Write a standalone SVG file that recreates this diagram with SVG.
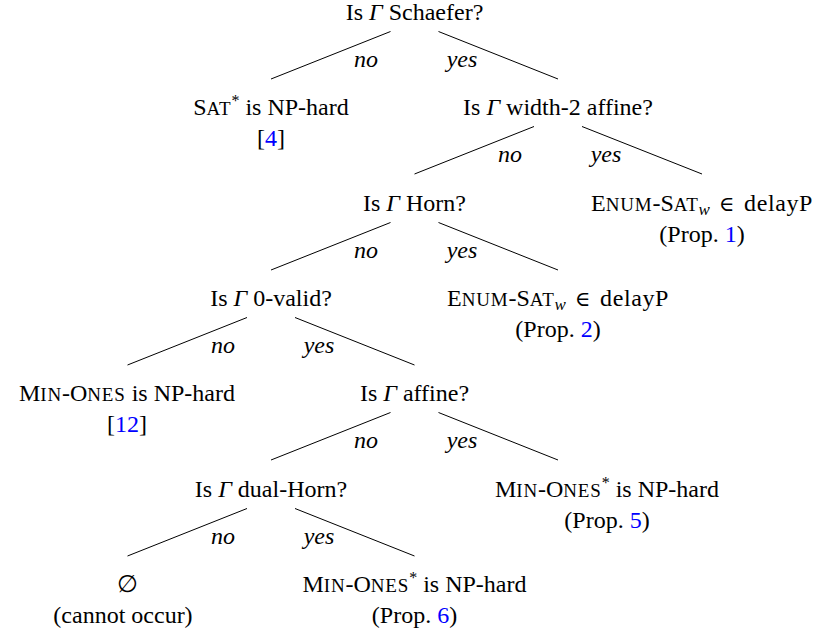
<svg xmlns="http://www.w3.org/2000/svg" width="820" height="636" viewBox="0 0 820 636">
<style>
text{font-size:24px;fill:#000;text-anchor:middle}
.sc{font-size:19px;letter-spacing:0.8px}
.sup{font-size:16px}
.sub{font-size:17px;font-style:italic}
.it{font-style:italic}
.cite{fill:#0000ff}
.sym{font-size:21px}
.dp{letter-spacing:0.6px}
.conn line{stroke:#000;stroke-width:1;fill:none}
.conn text{font-style:italic}
</style>
<rect width="820" height="636" fill="#fff"/>
<g font-family="Liberation Serif">
<g id="connectors" class="conn">
<line x1="390.5" y1="31.5" x2="271" y2="79"/>
<line x1="438.5" y1="31.5" x2="558" y2="79"/>
<text x="366" y="67">no</text><text x="462" y="67">yes</text>
<line x1="534" y1="126.5" x2="414.5" y2="174"/>
<line x1="582" y1="126.5" x2="702" y2="174"/>
<text x="510" y="162">no</text><text x="606" y="162">yes</text>
<line x1="390.5" y1="222.5" x2="271" y2="270"/>
<line x1="438.5" y1="222.5" x2="558" y2="270"/>
<text x="366" y="258">no</text><text x="462" y="258">yes</text>
<line x1="247" y1="317.5" x2="127.5" y2="365"/>
<line x1="295" y1="317.5" x2="414.5" y2="365"/>
<text x="223" y="353">no</text><text x="319" y="353">yes</text>
<line x1="390.5" y1="412.5" x2="271" y2="460"/>
<line x1="438.5" y1="412.5" x2="558" y2="460"/>
<text x="366" y="448">no</text><text x="462" y="448">yes</text>
<line x1="247" y1="508.5" x2="127.5" y2="556"/>
<line x1="295" y1="508.5" x2="414.5" y2="556"/>
<text x="223" y="544">no</text><text x="319" y="544">yes</text>
</g>
<g id="q-schaefer"><text x="414.5" y="20">Is <tspan class="it">Γ</tspan> Schaefer?</text></g>
<g id="leaf-sat"><text x="271" y="115">S<tspan class="sc">AT</tspan><tspan class="sup" dy="-9">*</tspan><tspan dy="9"> is NP-hard</tspan></text><text x="271" y="146">[<tspan class="cite">4</tspan>]</text></g>
<g id="q-width2"><text x="558" y="115">Is <tspan class="it">Γ</tspan> width-2 affine?</text></g>
<g id="leaf-enum1"><text x="702" y="211">E<tspan class="sc">NUM</tspan>-S<tspan class="sc">AT</tspan><tspan class="sub" dy="4">w</tspan><tspan dy="-4" dx="3"> </tspan><tspan class="sym" font-family="DejaVu Serif">∈</tspan><tspan class="dp" dx="3"> delayP</tspan></text><text x="702" y="242">(Prop. <tspan class="cite">1</tspan>)</text></g>
<g id="q-horn"><text x="414.5" y="211">Is <tspan class="it">Γ</tspan> Horn?</text></g>
<g id="leaf-enum2"><text x="558" y="306">E<tspan class="sc">NUM</tspan>-S<tspan class="sc">AT</tspan><tspan class="sub" dy="4">w</tspan><tspan dy="-4" dx="3"> </tspan><tspan class="sym" font-family="DejaVu Serif">∈</tspan><tspan class="dp" dx="3"> delayP</tspan></text><text x="558" y="337">(Prop. <tspan class="cite">2</tspan>)</text></g>
<g id="q-0valid"><text x="271" y="306">Is <tspan class="it">Γ</tspan> 0-valid?</text></g>
<g id="leaf-minones"><text x="127" y="401">M<tspan class="sc">IN</tspan>-O<tspan class="sc">NES</tspan> is NP-hard</text><text x="127" y="432">[<tspan class="cite">12</tspan>]</text></g>
<g id="q-affine"><text x="414.5" y="401">Is <tspan class="it">Γ</tspan> affine?</text></g>
<g id="q-dualhorn"><text x="271" y="497">Is <tspan class="it">Γ</tspan> dual-Horn?</text></g>
<g id="leaf-minones5"><text x="607" y="497">M<tspan class="sc">IN</tspan>-O<tspan class="sc">NES</tspan><tspan class="sup" dy="-9">*</tspan><tspan dy="9"> is NP-hard</tspan></text><text x="607" y="528">(Prop. <tspan class="cite">5</tspan>)</text></g>
<g id="leaf-empty"><text x="127" y="592" font-family="DejaVu Serif" font-size="25">∅</text><text x="123" y="623">(cannot occur)</text></g>
<g id="leaf-minones6"><text x="414.5" y="592">M<tspan class="sc">IN</tspan>-O<tspan class="sc">NES</tspan><tspan class="sup" dy="-9">*</tspan><tspan dy="9"> is NP-hard</tspan></text><text x="414.5" y="623">(Prop. <tspan class="cite">6</tspan>)</text></g>
</g>
</svg>
